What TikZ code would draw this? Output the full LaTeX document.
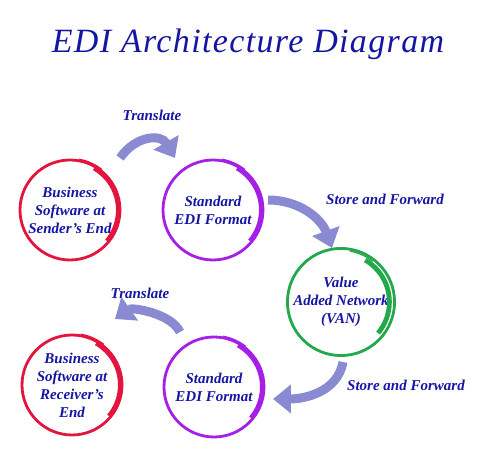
\documentclass[tikz,border=0pt]{standalone}
\usepackage{fontspec}
\setmainfont{Liberation Serif}
\usetikzlibrary{arrows.meta,calc}
\definecolor{tinta}{HTML}{1515A3}
\definecolor{flecha}{HTML}{8A8AD2}
\definecolor{rojo}{HTML}{E3153F}
\definecolor{morado}{HTML}{A51FE6}
\definecolor{verde}{HTML}{23A84B}

\begin{document}
\begin{tikzpicture}[x=0.5pt, y=0.5pt, font=\fontsize{7.5}{9}\selectfont\bfseries\itshape,
      ring/.style={circle, draw=#1, line width=1.4pt, minimum size=50pt, inner sep=0pt,
                   align=center, text=tinta},
      swoop/.style={draw=flecha, line width=4.5pt, -{Triangle[width=14pt,length=9pt]}},
      tag/.style={text=tinta}]
    \useasboundingbox (0,0) rectangle (500,455);
    \node[text=tinta, font=\fontsize{17}{20}\selectfont\itshape\addfontfeature{LetterSpace=4}]
      (titulo) at (248,411) {EDI Architecture Diagram};
    % the five stations
    \node[ring=rojo] (send) at (70,245) {Business\\Software at\\Sender's End};
    \node[ring=morado] (std1) at (213,245) {Standard\\EDI Format};
    \node[ring=verde] (van) at (341,153) {Value\\Added Network\\(VAN)};
    \node[ring=morado] (std2) at (214,68) {Standard\\EDI Format};
    \node[ring=rojo] (recv) at (72,70) {Business\\Software at\\Receiver's\\End};
    % brush ends on the rings
    \foreach \n/\c in {send/rojo, std1/morado, van/verde, std2/morado, recv/rojo} {
      \draw[\c, line width=2.4pt] (\n) ++(60:24.2pt) arc[start angle=60, end angle=-40, radius=24.2pt];
      \draw[\c, line width=0.6pt] (\n) ++(80:25.8pt) arc[start angle=80, end angle=52, radius=25.8pt];
    }
    % connectors
    \draw[swoop] ($(send)+(50,52)$) to[out=55, in=120, looseness=1.3] ($(std1)+(-38,52)$);
    \draw[swoop] ($(std1)+(55,10)$) to[out=0, in=110] ($(van)+(-9,54)$);
    \draw[swoop] ($(van)+(2,-60)$) to[out=-100, in=0] ($(std2)+(59,-12)$);
    \draw[swoop] ($(std2)+(-34,55)$) to[out=115, in=35, looseness=0.8] ($(recv)+(43,66)$);
    \node[tag] (t1) at (152,340) {Translate};
    \node[tag] (s1) at (385,256) {Store and Forward};
    \node[tag] (s2) at (406,70) {Store and Forward};
    \node[tag] (t2) at (140,162) {Translate};
  \end{tikzpicture}
\end{document}
